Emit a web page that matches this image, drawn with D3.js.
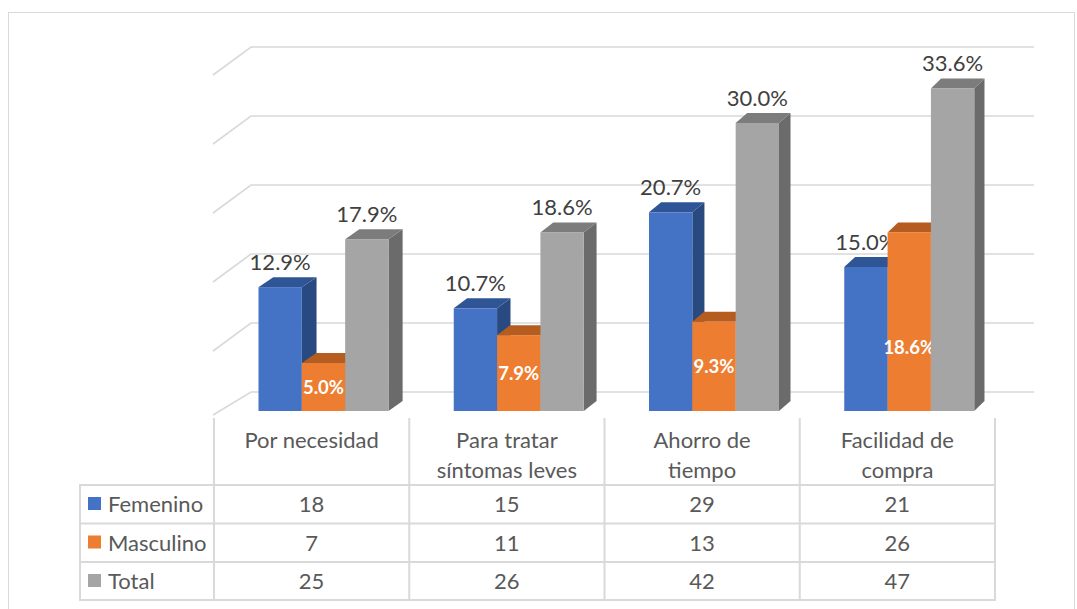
<!DOCTYPE html>
<html>
<head>
<meta charset="utf-8">
<script src="https://cdn.jsdelivr.net/npm/d3@7"></script>
<style>
  html, body { margin: 0; padding: 0; background: #fff; }
  svg { display: block; font-family: Lato, "Open Sans", sans-serif; }
</style>
</head>
<body>
<svg id="chart" width="1077" height="609"></svg>
<script>
// Categories (header lines) and series
const categories = [
  ["Por necesidad"],
  ["Para tratar", "síntomas leves"],
  ["Ahorro de", "tiempo"],
  ["Facilidad de", "compra"]
];
const seriesNames = ["Femenino", "Masculino", "Total"];

// Percentages shown on the columns
const femeninoPct  = [12.9, 10.7, 20.7, 15.0];
const masculinoPct = [5.0, 7.9, 9.3, 18.6];
const totalPct     = [17.9, 18.6, 30.0, 33.6];

// Counts shown in the data table
const femeninoN  = [18, 15, 29, 21];
const masculinoN = [7, 11, 13, 26];
const totalN     = [25, 26, 42, 47];

// Back-wall gridline values (%)
const gridTicks = [0, 8, 16, 24, 32, 40];

const pctSeries = [femeninoPct, masculinoPct, totalPct];
const countSeries = [femeninoN, masculinoN, totalN];

const colors = {
  Femenino:  { front: "#4472C4", side: "#284A80", top: "#2F5597" },
  Masculino: { front: "#ED7D31", side: "#A8561F", top: "#B55D21" },
  Total:     { front: "#A5A5A5", side: "#6B6B6B", top: "#7C7C7C" }
};

const svg = d3.select("#chart");

// Outer chart frame
svg.append("rect")
  .attr("x", 8.5).attr("y", 12.5)
  .attr("width", 1066).attr("height", 610)
  .attr("fill", "none").attr("stroke", "#D9D9D9").attr("stroke-width", 1);

// Layout
const tableLeft = 80, plotLeft = 214, plotRight = 995;
const wallLeft = 251, wallRight = 1034;
const base = 411;               // front bottom of the columns
const barDepthY = 10;
const fontSize = 22;

const x = d3.scaleBand()
  .domain(d3.range(categories.length))
  .range([plotLeft, plotRight]);

const inner = d3.scaleBand()
  .domain(seriesNames)
  .range([44.5, 44.5 + 130]);

const y = d3.scaleLinear().domain([0, 40]).range([base, base - 384]);
const yWall = d3.scaleLinear().domain([0, 40]).range([392, 47]);

// depth of a column shrinks slightly to the right (perspective)
const depthX = px => 15 - 4 * (px - 258) / 600;

// Gridlines on the back wall and the left wall
const grid = svg.append("g").attr("stroke", "#D9D9D9").attr("stroke-width", 1.6).attr("fill", "none");
gridTicks.forEach((t, i) => {
  const yb = yWall(t);
  const dyWall = i === 0 ? 23 : 28;
  grid.append("path")
    .attr("d", `M${plotLeft - 1},${yb + dyWall}L${wallLeft},${yb}L${wallRight},${yb}`);
});

// Columns
const bars = svg.append("g");
categories.forEach((c, ci) => {
  seriesNames.forEach((s, si) => {
    const v = pctSeries[si][ci];
    const x0 = x(ci) + inner(s);
    const w = inner.bandwidth();
    const yt = y(v);
    const dx = depthX(x0 + w);
    const col = colors[s];
    const g = bars.append("g");
    // side face
    g.append("path")
      .attr("d", `M${x0 + w},${base}L${x0 + w},${yt}L${x0 + w + dx},${yt - barDepthY}L${x0 + w + dx},${base - barDepthY}Z`)
      .attr("fill", col.side);
    // top face
    g.append("path")
      .attr("d", `M${x0},${yt}L${x0 + dx},${yt - barDepthY}L${x0 + w + dx},${yt - barDepthY}L${x0 + w},${yt}Z`)
      .attr("fill", col.top);
    // front face
    g.append("rect")
      .attr("x", x0).attr("y", yt)
      .attr("width", w).attr("height", base - yt)
      .attr("fill", col.front);

    const cx = x0 + w / 2;
    if (s === "Masculino") {
      const mid = Math.max((yt + base) / 2, base - 64);
      g.append("text")
        .attr("x", cx).attr("y", mid).attr("dy", "0.36em")
        .attr("text-anchor", "middle")
        .attr("fill", "#FFFFFF").attr("font-weight", "bold").attr("font-size", 18.5)
        .text(v.toFixed(1) + "%");
    } else {
      g.append("text")
        .attr("x", cx).attr("y", yt - barDepthY - 7)
        .attr("text-anchor", "middle")
        .attr("fill", "#404040").attr("font-size", fontSize)
        .text(v.toFixed(1) + "%");
    }
  });
});

// Data table
const rowTop = [485, 523.5, 562];
const tableBottom = 600;
const lines = svg.append("g").attr("stroke", "#D9D9D9").attr("stroke-width", 2);

x.domain().forEach(ci => {
  lines.append("line")
    .attr("x1", x(ci)).attr("x2", x(ci)).attr("y1", 418).attr("y2", tableBottom);
});
lines.append("line")
  .attr("x1", plotRight).attr("x2", plotRight).attr("y1", 418).attr("y2", tableBottom);
lines.append("line")
  .attr("x1", tableLeft).attr("x2", tableLeft).attr("y1", rowTop[0]).attr("y2", tableBottom);
rowTop.concat([tableBottom]).forEach(ry => {
  lines.append("line")
    .attr("x1", tableLeft - 1).attr("x2", plotRight + 1).attr("y1", ry).attr("y2", ry);
});

// Header with category names
const header = svg.append("g").attr("fill", "#595959").attr("font-size", fontSize).attr("text-anchor", "middle");
categories.forEach((headLines, ci) => {
  const t = header.append("text").attr("x", x(ci) + x.bandwidth() / 2);
  headLines.forEach((ln, li) => {
    t.append("tspan")
      .attr("x", x(ci) + x.bandwidth() / 2)
      .attr("y", 448 + li * 30)
      .text(ln);
  });
});

// Rows: legend key + counts
const rows = svg.append("g").attr("fill", "#595959").attr("font-size", fontSize);
seriesNames.forEach((s, si) => {
  const baseline = rowTop[si] + 27;
  rows.append("rect")
    .attr("x", 88).attr("y", rowTop[si] + 12)
    .attr("width", 13).attr("height", 13)
    .attr("fill", colors[s].front);
  rows.append("text")
    .attr("x", 108).attr("y", baseline)
    .text(s);
  countSeries[si].forEach((n, ci) => {
    rows.append("text")
      .attr("x", x(ci) + x.bandwidth() / 2).attr("y", baseline)
      .attr("text-anchor", "middle")
      .text(n);
  });
});
</script>
</body>
</html>
